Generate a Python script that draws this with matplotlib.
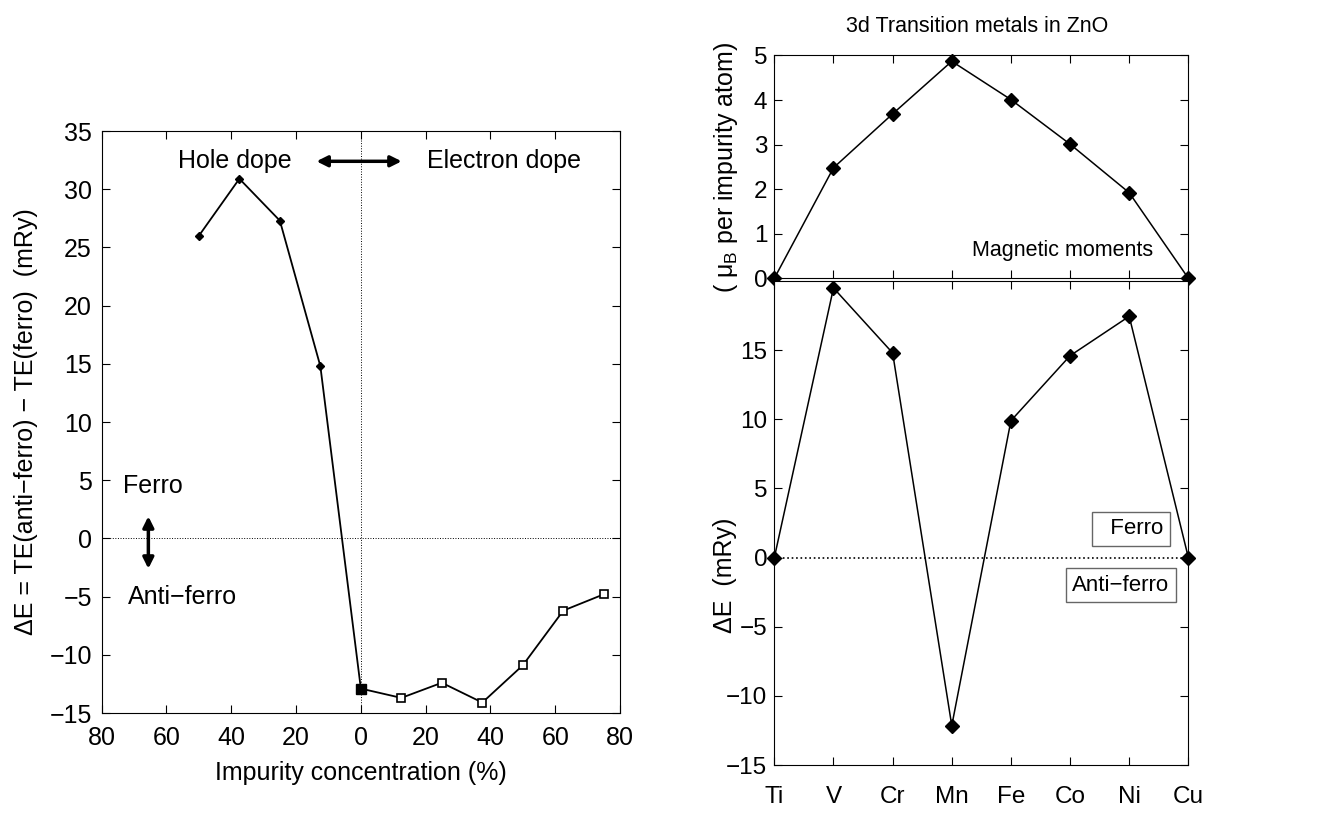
import matplotlib
matplotlib.use("Agg")
import matplotlib.pyplot as plt

# Left panel: exchange energy vs. impurity concentration
hole_conc = [-50, -37.5, -25, -12.5]
hole_dE = [26.0, 30.9, 27.3, 14.8]
elec_conc = [0, 12.5, 25, 37.5, 50, 62.5, 75]
elec_dE = [-12.9, -13.7, -12.4, -14.1, -10.9, -6.2, -4.8]
conc_ticks = [-80, -60, -40, -20, 0, 20, 40, 60, 80]

# Right panels: 3d transition metals in ZnO
metals = ["Ti", "V", "Cr", "Mn", "Fe", "Co", "Ni", "Cu"]
moments = [0, 2.48, 3.69, 4.87, 4.01, 3.01, 1.92, 0]
metal_dE = [0, 19.5, 14.8, -12.15, 9.9, 14.6, 17.45, 0]

plt.rcParams["font.family"] = ["Liberation Sans", "DejaVu Sans"]
LFS = 18    # left panel font size
RFS = 17.5  # right panel tick font size

fig = plt.figure(figsize=(13.33, 8.32), dpi=100)

# ---------------- left panel ----------------
ax = fig.add_axes([0.0763, 0.1430, 0.3888, 0.6995])
ax.plot(hole_conc + elec_conc, hole_dE + elec_dE, color="black", lw=1.3, zorder=3)
ax.plot(hole_conc, hole_dE, ls="none", marker="D", ms=4, color="black", zorder=4)
ax.plot(elec_conc[1:], elec_dE[1:], ls="none", marker="s", ms=6, mfc="white",
        mec="black", mew=1.2, zorder=4)
ax.plot(elec_conc[:1], elec_dE[:1], ls="none", marker="s", ms=7, color="black", zorder=4)
ax.axhline(0, color="black", ls=":", lw=0.7)
ax.axvline(0, color="black", ls=":", lw=0.7)
ax.set_xlim(-80, 80)
ax.set_ylim(-15, 35)
ax.set_xticks(conc_ticks)
ax.set_xticklabels([str(abs(t)) for t in conc_ticks])
ax.set_yticks(range(-15, 36, 5))
ax.tick_params(direction="in", top=True, right=True, length=6, labelsize=LFS)
ax.tick_params(axis="x", pad=9)
ax.tick_params(axis="y", pad=7)
ax.set_xlabel("Impurity concentration (%)", fontsize=LFS, labelpad=8)
ax.set_ylabel("ΔE = TE(anti−ferro) − TE(ferro)  (mRy)", fontsize=LFS)
ax.yaxis.set_label_coords(-0.123, 0.5)

ax.text(-39, 32.4, "Hole dope", fontsize=LFS, ha="center", va="center")
ax.text(44.3, 32.4, "Electron dope", fontsize=LFS, ha="center", va="center")
ax.annotate("", xy=(12.6, 32.4), xytext=(-13.7, 32.4),
            arrowprops=dict(arrowstyle="<|-|>", lw=2.5, color="black", mutation_scale=16,
                            shrinkA=0, shrinkB=0))
ax.text(-73.5, 4.5, "Ferro", fontsize=LFS, ha="left", va="center")
ax.text(-71.8, -5.0, "Anti−ferro", fontsize=LFS, ha="left", va="center")
ax.annotate("", xy=(-65.6, -2.6), xytext=(-65.6, 1.9),
            arrowprops=dict(arrowstyle="<|-|>", lw=2.5, color="black", mutation_scale=16,
                            shrinkA=0, shrinkB=0))

# ---------------- right panels ----------------
xpos = list(range(len(metals)))

axt = fig.add_axes([0.5809, 0.6655, 0.3106, 0.2678])
axt.plot(xpos, moments, color="black", lw=1.1, marker="D", ms=7, clip_on=False, zorder=4)
axt.set_xlim(0, len(metals) - 1)
axt.set_ylim(0, 5)
axt.set_xticks(xpos)
axt.set_xticklabels([])
axt.set_yticks(range(0, 6))
axt.tick_params(direction="in", top=True, right=True, length=6, labelsize=RFS, pad=5)
axt.set_ylabel("( μ$_\\mathregular{B}$ per impurity atom)", fontsize=18)
axt.yaxis.set_label_coords(-0.084, 0.5)
axt.text(4.88, 0.63, "Magnetic moments", fontsize=15.5, ha="center", va="center")

axb = fig.add_axes([0.5809, 0.0805, 0.3106, 0.5817])
axb.plot(xpos, metal_dE, color="black", lw=1.1, marker="D", ms=7, clip_on=False, zorder=4)
axb.axhline(0, color="black", ls=":", lw=1.2)
axb.set_xlim(0, len(metals) - 1)
axb.set_ylim(-15, 20)
axb.set_xticks(xpos)
axb.set_xticklabels(metals)
axb.set_yticks(range(-15, 16, 5))
axb.tick_params(direction="in", top=True, right=True, length=6, labelsize=RFS)
axb.tick_params(axis="y", pad=5)
axb.tick_params(axis="x", pad=15)
axb.set_ylabel("ΔE  (mRy)", fontsize=18)
axb.yaxis.set_label_coords(-0.09, 0.393)

box = dict(boxstyle="square,pad=0.3", fc="white", ec="0.4", lw=1)
axb.text(6.03, 2.07, "  Ferro", fontsize=16, ha="center", va="center", bbox=box)
axb.text(5.86, -1.99, "Anti−ferro", fontsize=16, ha="center", va="center", bbox=box)

fig.text(977 / 1333, 1 - 27 / 832, "3d Transition metals in ZnO", fontsize=15.5,
         ha="center", va="center")

fig.savefig("out.png", dpi=100)
